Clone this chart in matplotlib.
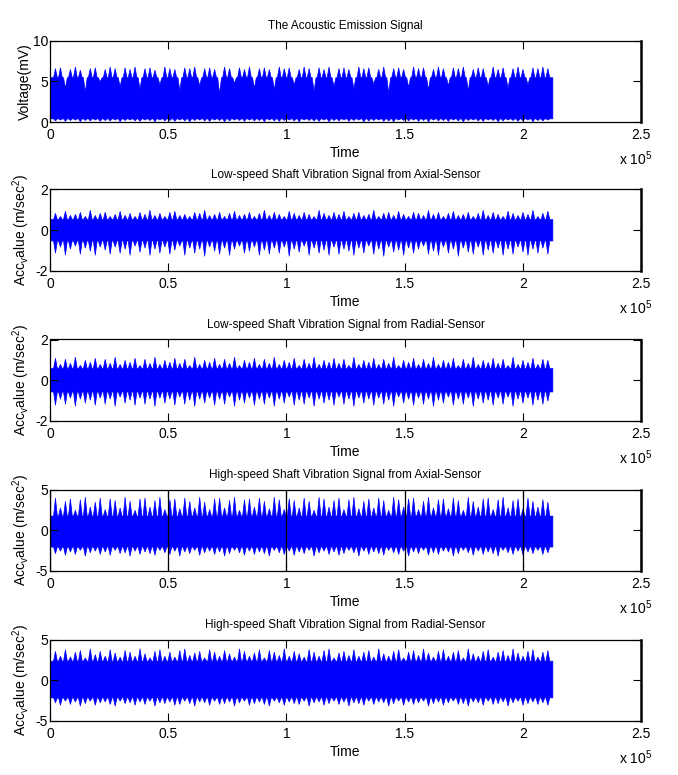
import numpy as np
import matplotlib.pyplot as plt

# last sample index of the records (signals stop around 2.12 x 10^5)
T_END = 2.125e5

# peak values of the spikes left to right
ae_top = [6.6, 6.7, 4.2, 6.5, 6.8, 6.4, 3.7, 6.6, 6.7, 5.0,
          6.5, 6.8, 6.6, 4.4, 6.7, 6.5, 6.8, 4.1, 6.6, 6.7,
          6.4, 4.6, 6.8, 6.6, 6.5, 3.9, 6.7, 6.6, 6.8, 4.5,
          6.6, 6.7, 6.5, 3.5, 6.8, 6.6, 4.8, 6.7, 6.5, 6.8,
          4.2, 6.6, 6.7, 6.5, 4.0, 6.8, 6.6, 6.7, 4.6, 6.5,
          6.8, 6.6, 3.8, 6.7, 6.5, 6.8, 4.4, 6.6, 6.7, 6.5,
          4.1, 6.8, 6.6, 6.7, 4.7, 6.5, 6.8, 3.6, 6.6, 6.7,
          6.5, 4.3, 6.8, 6.6, 6.7, 4.0, 6.5, 6.8, 6.6, 4.5,
          6.7, 6.6, 6.8, 3.9, 6.5, 6.7, 6.6, 4.4, 6.8, 6.5,
          6.7, 4.2, 6.6, 6.8, 6.5, 4.6, 6.7, 6.6, 6.8, 6.6]
ae_bottom = [0.2, 0.3, 0.15, 0.25, 0.3, 0.1, 0.25, 0.2, 0.3, 0.15,
             0.25, 0.2, 0.3, 0.1, 0.25, 0.3, 0.2, 0.15, 0.3, 0.25,
             0.1, 0.3, 0.2, 0.25, 0.15, 0.3, 0.2, 0.1, 0.25, 0.3,
             0.2, 0.15, 0.3, 0.25, 0.1, 0.2, 0.3, 0.25, 0.15, 0.3,
             0.2, 0.25, 0.1, 0.3, 0.2, 0.15, 0.25, 0.3, 0.2, 0.1,
             0.3, 0.25, 0.2, 0.15, 0.3, 0.1, 0.25, 0.2, 0.3, 0.15,
             0.25, 0.3, 0.1, 0.2, 0.25, 0.3, 0.15, 0.2, 0.1, 0.3,
             0.25, 0.2, 0.3, 0.15, 0.25, 0.1, 0.3, 0.2, 0.25, 0.15,
             0.3, 0.2, 0.1, 0.25, 0.3, 0.2, 0.15, 0.3, 0.25, 0.1,
             0.2, 0.3, 0.25, 0.15, 0.2, 0.3, 0.1, 0.25, 0.2, 0.3]
ae_band = (0.45, 5.5)

ls_axial_top = [0.85, 0.7, 0.95, 0.75, 0.8, 0.9, 0.7, 1.0, 0.75, 0.85,
                0.9, 0.7, 0.8, 0.95, 0.75, 0.85, 0.7, 0.9, 0.8, 1.0,
                0.75, 0.85, 0.7, 0.9, 0.95, 0.75, 0.8, 0.7, 0.9, 0.85,
                1.0, 0.75, 0.8, 0.9, 0.7, 0.85, 0.95, 0.75, 0.8, 0.9,
                0.7, 0.85, 1.0, 0.75, 0.9, 0.8, 0.7, 0.95, 0.85, 0.75,
                0.9, 0.8, 0.7, 1.0, 0.85, 0.75, 0.9, 0.8, 0.95, 0.7,
                0.85, 0.9, 0.75, 0.8, 1.0, 0.7, 0.85, 0.9, 0.75, 0.95,
                0.8, 0.7, 0.9, 0.85, 0.75, 1.0, 0.8, 0.9, 0.7, 0.85,
                0.95, 0.75, 0.8, 0.9, 0.7, 0.85, 1.0, 0.75, 0.9, 0.8,
                0.7, 0.95, 0.85, 0.75, 0.9, 0.8, 1.0, 0.7, 0.85, 0.95]
ls_axial_bottom = [-1.1, -0.8, -1.2, -0.9, -0.75, -1.15, -0.85, -1.0, -1.2, -0.8,
                   -0.95, -1.15, -0.8, -1.1, -0.9, -1.2, -0.75, -1.05, -0.85, -1.2,
                   -0.9, -1.1, -0.8, -1.15, -0.95, -0.75, -1.2, -0.85, -1.1, -0.9,
                   -1.25, -0.8, -1.0, -1.15, -0.85, -1.2, -0.9, -0.75, -1.1, -1.0,
                   -0.8, -1.2, -0.95, -1.15, -0.85, -1.1, -0.8, -1.25, -0.9, -1.05,
                   -0.75, -1.2, -0.85, -1.1, -0.95, -1.2, -0.8, -1.15, -0.9, -1.0,
                   -1.2, -0.85, -1.1, -0.75, -1.15, -0.9, -1.25, -0.8, -1.05, -0.95,
                   -1.2, -0.85, -1.1, -0.9, -0.75, -1.15, -1.0, -1.2, -0.8, -1.1,
                   -0.9, -1.25, -0.85, -1.05, -1.15, -0.8, -1.2, -0.95, -1.1, -0.85,
                   -1.2, -0.9, -1.15, -0.8, -1.05, -1.2, -0.9, -1.1, -0.85, -1.15]
ls_axial_band = (-0.5, 0.55)

ls_radial_top = [1.1, 0.8, 1.05, 0.85, 1.15, 0.75, 1.0, 0.9, 1.1, 0.8,
                 1.05, 0.85, 1.15, 0.8, 1.0, 0.9, 1.1, 0.75, 1.05, 0.85,
                 1.15, 0.8, 1.0, 0.9, 1.1, 0.85, 1.05, 0.75, 1.15, 0.8,
                 1.0, 0.9, 1.1, 0.8, 1.05, 0.85, 1.15, 0.75, 1.0, 0.9,
                 1.1, 0.8, 1.05, 0.85, 1.15, 0.8, 1.0, 0.9, 1.1, 0.75,
                 1.05, 0.85, 1.15, 0.8, 1.0, 0.9, 1.1, 0.85, 1.05, 0.75,
                 1.15, 0.8, 1.0, 0.9, 1.1, 0.8, 1.05, 0.85, 1.15, 0.75,
                 1.0, 0.9, 1.1, 0.8, 1.05, 0.85, 1.15, 0.8, 1.0, 0.9,
                 1.1, 0.75, 1.05, 0.85, 1.15, 0.8, 1.0, 0.9, 1.1, 0.85,
                 1.05, 0.75, 1.15, 0.8, 1.0, 0.9, 1.1, 0.8, 1.05, 1.0]
ls_radial_bottom = [-1.2, -0.9, -1.15, -0.85, -1.25, -0.9, -1.1, -0.95, -1.2, -0.85,
                    -1.15, -0.9, -1.25, -0.8, -1.1, -0.95, -1.2, -0.85, -1.15, -0.9,
                    -1.25, -0.85, -1.1, -0.9, -1.2, -0.8, -1.15, -0.95, -1.25, -0.9,
                    -1.1, -0.85, -1.2, -0.9, -1.15, -0.8, -1.25, -0.95, -1.1, -0.85,
                    -1.2, -0.9, -1.15, -0.85, -1.25, -0.9, -1.1, -0.8, -1.2, -0.95,
                    -1.15, -0.85, -1.25, -0.9, -1.1, -0.95, -1.2, -0.8, -1.15, -0.9,
                    -1.25, -0.85, -1.1, -0.9, -1.2, -0.85, -1.15, -0.95, -1.25, -0.8,
                    -1.1, -0.9, -1.2, -0.85, -1.15, -0.9, -1.25, -0.95, -1.1, -0.8,
                    -1.2, -0.9, -1.15, -0.85, -1.25, -0.9, -1.1, -0.95, -1.2, -0.85,
                    -1.15, -0.8, -1.25, -0.9, -1.1, -0.85, -1.2, -0.95, -1.15, -1.0]
ls_radial_band = (-0.55, 0.6)

hs_axial_top = [4.0, 2.8, 3.6, 3.9, 2.5, 3.8, 4.1, 2.9, 3.5, 4.0,
                2.6, 3.9, 3.7, 2.8, 4.1, 3.6, 2.5, 3.9, 4.0, 2.9,
                3.7, 4.1, 2.6, 3.8, 3.9, 2.7, 4.0, 3.6, 2.8, 4.1,
                3.5, 2.6, 3.9, 4.0, 2.8, 3.7, 4.1, 2.5, 3.8, 3.9,
                2.9, 4.0, 3.6, 2.7, 4.1, 3.8, 2.6, 3.9, 3.7, 2.8,
                4.0, 3.6, 2.5, 4.1, 3.9, 2.9, 3.7, 4.0, 2.6, 3.8,
                4.1, 2.7, 3.6, 3.9, 2.8, 4.0, 3.7, 2.5, 4.1, 3.8,
                2.9, 3.9, 4.0, 2.6, 3.6, 4.1, 2.8, 3.8, 3.9, 2.7,
                4.0, 3.7, 2.5, 4.1, 3.6, 2.9, 3.9, 4.0, 2.6, 3.8,
                4.1, 2.8, 3.7, 3.9, 2.7, 4.0, 3.6, 2.9, 3.8, 3.5]
hs_axial_bottom = [-2.8, -2.5, -3.0, -2.6, -2.9, -2.4, -3.1, -2.7, -2.5, -2.9,
                   -2.6, -3.0, -2.4, -2.8, -2.7, -3.1, -2.5, -2.9, -2.6, -2.8,
                   -3.0, -2.4, -2.7, -2.9, -2.5, -3.1, -2.6, -2.8, -2.4, -3.0,
                   -2.7, -2.5, -2.9, -2.6, -3.1, -2.8, -2.4, -2.7, -3.0, -2.5,
                   -2.9, -2.6, -2.8, -3.1, -2.4, -2.7, -2.9, -2.5, -3.0, -2.6,
                   -2.8, -2.4, -3.1, -2.7, -2.5, -2.9, -2.6, -3.0, -2.8, -2.4,
                   -2.7, -3.1, -2.5, -2.9, -2.6, -2.8, -3.0, -2.4, -2.7, -2.9,
                   -2.5, -3.1, -2.6, -2.8, -2.4, -3.0, -2.7, -2.9, -2.5, -2.6,
                   -3.1, -2.8, -2.4, -2.7, -3.0, -2.5, -2.9, -2.6, -2.8, -3.1,
                   -2.4, -2.7, -2.9, -2.5, -3.0, -2.6, -2.8, -2.4, -2.9, -2.7]
hs_axial_band = (-2.0, 1.8)

hs_radial_top = [3.6, 3.0, 3.8, 2.9, 3.5, 3.7, 2.8, 3.9, 3.2, 3.6,
                 3.0, 3.8, 3.4, 2.9, 3.7, 3.5, 3.0, 3.9, 3.3, 2.8,
                 3.6, 3.8, 3.0, 3.5, 2.9, 3.7, 3.9, 3.1, 3.4, 3.6,
                 2.8, 3.8, 3.5, 3.0, 3.7, 3.3, 2.9, 3.9, 3.6, 3.0,
                 3.4, 3.8, 2.8, 3.7, 3.5, 3.1, 3.9, 3.0, 3.6, 3.3,
                 2.9, 3.8, 3.5, 3.0, 3.7, 3.9, 2.8, 3.4, 3.6, 3.1,
                 3.8, 3.0, 3.5, 3.7, 2.9, 3.9, 3.3, 3.0, 3.6, 3.8,
                 2.8, 3.5, 3.7, 3.1, 3.9, 3.4, 2.9, 3.6, 3.8, 3.0,
                 3.5, 3.7, 2.8, 3.9, 3.3, 3.0, 3.6, 3.8, 2.9, 3.5,
                 3.7, 3.1, 3.9, 3.4, 3.0, 3.6, 3.8, 2.9, 3.5, 3.7]
hs_radial_bottom = [-2.7, -3.0, -2.5, -2.9, -2.6, -3.1, -2.8, -2.5, -3.0, -2.7,
                    -2.6, -2.9, -3.1, -2.5, -2.8, -2.7, -3.0, -2.6, -2.9, -2.5,
                    -3.1, -2.7, -2.8, -2.6, -3.0, -2.9, -2.5, -2.8, -3.1, -2.6,
                    -2.7, -3.0, -2.5, -2.9, -2.8, -2.6, -3.1, -2.7, -2.5, -3.0,
                    -2.8, -2.6, -2.9, -3.1, -2.5, -2.7, -3.0, -2.6, -2.8, -2.9,
                    -2.5, -3.1, -2.7, -2.6, -3.0, -2.8, -2.5, -2.9, -2.6, -3.1,
                    -2.7, -2.8, -3.0, -2.5, -2.9, -2.6, -2.7, -3.1, -2.8, -2.5,
                    -3.0, -2.6, -2.9, -2.7, -2.5, -3.1, -2.8, -2.6, -3.0, -2.7,
                    -2.5, -2.9, -2.8, -3.1, -2.6, -2.7, -3.0, -2.5, -2.9, -2.8,
                    -2.6, -3.1, -2.7, -2.5, -3.0, -2.8, -2.6, -2.9, -2.7, -3.0]
hs_radial_band = (-2.1, 2.4)

titles = ["The Acoustic Emission Signal",
          "Low-speed Shaft Vibration Signal from Axial-Sensor",
          "Low-speed Shaft Vibration Signal from Radial-Sensor",
          "High-speed Shaft Vibration Signal from Axial-Sensor",
          "High-speed Shaft Vibration Signal from Radial-Sensor"]
acc_label = r"Acc$_v$alue (m/sec$^2$)"
ylabels = ["Voltage(mV)", acc_label, acc_label, acc_label, acc_label]
yticks = [[0, 5, 10], [-2, 0, 2], [-2, 0, 2], [-5, 0, 5], [-5, 0, 5]]
xticks = [0, 0.5e5, 1e5, 1.5e5, 2e5, 2.5e5]
xticklabels = ["0", "0.5", "1", "1.5", "2", "2.5"]

signals = [(ae_bottom, ae_top, ae_band),
           (ls_axial_bottom, ls_axial_top, ls_axial_band),
           (ls_radial_bottom, ls_radial_top, ls_radial_band),
           (hs_axial_bottom, hs_axial_top, hs_axial_band),
           (hs_radial_bottom, hs_radial_top, hs_radial_band)]


def envelope(peaks, level, t_end=T_END):
    # dense band at 'level' with a narrow spike at each peak
    n = len(peaks)
    centers = np.linspace(0, t_end, n + 2)[1:-1]
    d = 0.38 * (centers[1] - centers[0])
    x = np.column_stack([centers - d, centers, centers + d]).ravel()
    y = np.column_stack([np.full(n, level), peaks, np.full(n, level)]).ravel()
    x = np.concatenate([[0], x, [t_end]])
    y = np.concatenate([[level], y, [level]])
    return x, y


plt.rcParams['font.family'] = ['Liberation Sans Narrow', 'Liberation Sans', 'DejaVu Sans']
plt.rcParams['mathtext.fontset'] = 'custom'
plt.rcParams['mathtext.rm'] = 'Liberation Sans'
plt.rcParams['mathtext.it'] = 'Liberation Sans'
plt.rcParams['mathtext.default'] = 'regular'
plt.rcParams['axes.unicode_minus'] = False

fig = plt.figure(figsize=(6.78, 7.75), dpi=100)
W, H = 678.0, 775.0
bottoms_px = [122, 271, 421, 571, 721]

for i in range(5):
    ax = fig.add_axes([50 / W, 1 - bottoms_px[i] / H, 591 / W, 81.5 / H])
    low, high, band = signals[i]
    x, y_lo = envelope(low, band[0])
    _, y_hi = envelope(high, band[1])
    ax.fill_between(x, y_lo, y_hi, color='#0000ff', lw=0.5, edgecolor='#0000ff')

    ax.set_xlim(0, 2.5e5)
    ax.set_ylim(yticks[i][0], yticks[i][-1])
    ax.set_xticks(xticks)
    ax.set_xticklabels(xticklabels)
    ax.set_yticks(yticks[i])
    ax.tick_params(direction='in', top=True, right=True, length=5.5, width=0.8,
                   labelsize=10, colors='black')
    ax.tick_params(axis='x', pad=4)
    ax.tick_params(axis='y', pad=1.5)
    for side in ['left', 'top', 'bottom']:
        ax.spines[side].set_linewidth(0.9)
    ax.spines['right'].set_linewidth(1.8)

    if i == 3:
        ax.grid(axis='x', color='black', lw=0.9, ls='-')
        ax.set_axisbelow(False)

    ax.set_title(titles[i], fontsize=8.5, pad=8.6)
    ax.set_xlabel("Time", fontsize=10)
    ax.xaxis.set_label_coords(0.5, -0.295)
    ax.xaxis.label.set_va('top')
    ax.set_ylabel(ylabels[i], fontsize=10, family='Liberation Sans')
    ax.yaxis.set_label_coords(-0.03, 0.5)
    ax.text(0.962, -0.45, "x 10$^5$", transform=ax.transAxes, fontsize=10,
            ha='left', va='center')

fig.savefig("out.png", dpi=100)
